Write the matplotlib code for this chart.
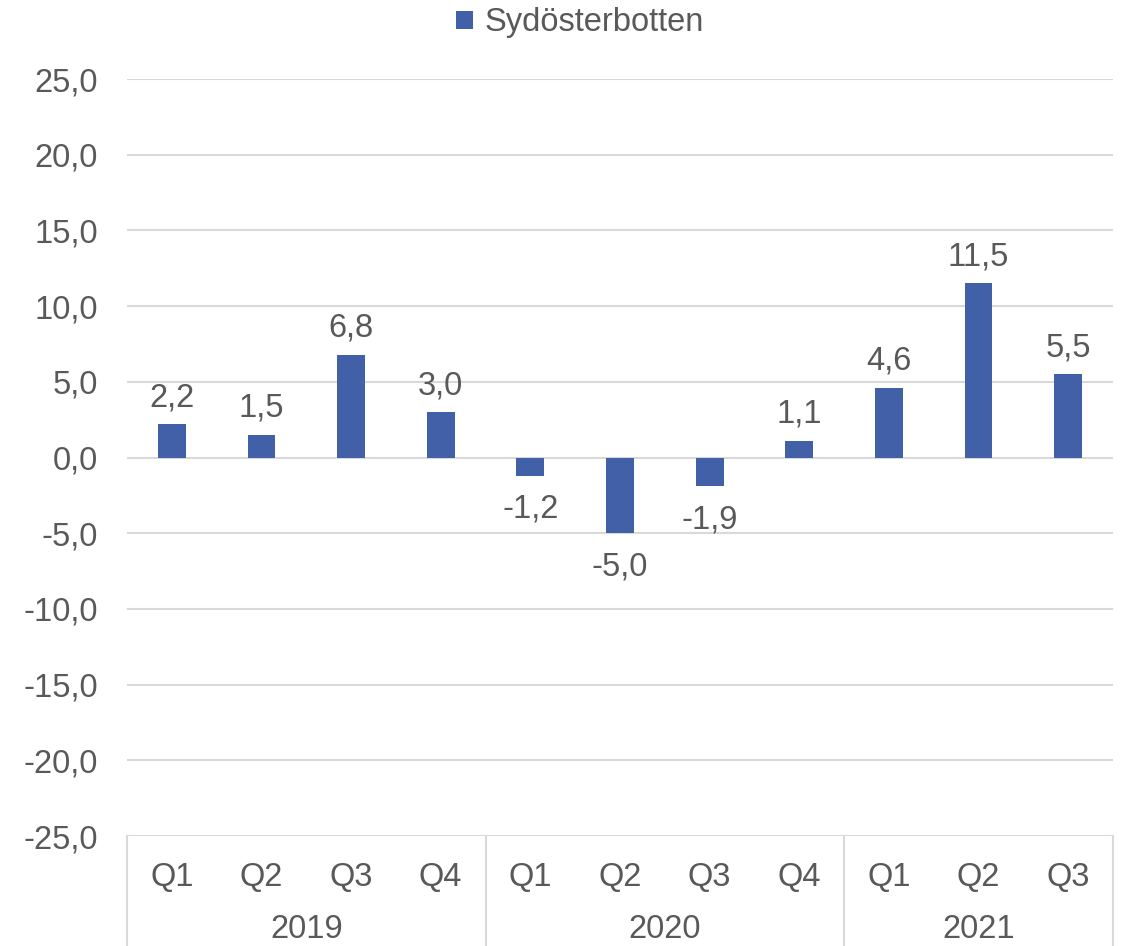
import matplotlib
matplotlib.use("Agg")
import matplotlib.pyplot as plt
from matplotlib.patches import Patch
import matplotlib.transforms as mtransforms

quarters = ["Q1", "Q2", "Q3", "Q4", "Q1", "Q2", "Q3", "Q4", "Q1", "Q2", "Q3"]
years = ["2019", "2020", "2021"]
year_counts = [4, 4, 3]
values = [2.2, 1.5, 6.8, 3.0, -1.2, -5.0, -1.9, 1.1, 4.6, 11.5, 5.5]
series_name = "Sydösterbotten"
yticks = [-25, -20, -15, -10, -5, 0, 5, 10, 15, 20, 25]

plt.rcParams['font.family'] = ['Liberation Sans', 'DejaVu Sans']
txt = '#595959'
bar_color = '#4160A8'
grid_color = '#D9D9D9'
fs = 23.5

W, H = 1122, 946
fig = plt.figure(figsize=(W / 100, H / 100), dpi=100)
left, right, top, bottom = 127, 1113, 79, 836
ax = fig.add_axes([left / W, (H - bottom) / H, (right - left) / W, (bottom - top) / H])

x = list(range(len(values)))
ax.bar(x, values, width=0.31, color=bar_color, zorder=3)
ax.set_xlim(-0.5, len(values) - 0.5)
ax.set_ylim(-25, 25)
ax.set_yticks(yticks)
ax.set_yticklabels([f"{v:.1f}".replace(".", ",") for v in yticks], color=txt, fontsize=fs)
ax.tick_params(axis='y', length=0, pad=21)
ax.set_xticks([])
for s in ax.spines.values():
    s.set_visible(False)
for v in yticks:
    ax.axhline(v, color=grid_color, lw=1.5, zorder=1)

for xi, v in zip(x, values):
    lab = f"{v:.1f}".replace(".", ",")
    if v >= 0:
        ax.annotate(lab, (xi, v), xytext=(0, 11), textcoords='offset pixels',
                    ha='center', va='bottom', fontsize=fs, color=txt)
    else:
        ax.annotate(lab, (xi, v), xytext=(0, -18), textcoords='offset pixels',
                    ha='center', va='top', fontsize=fs, color=txt)

# category axis
axh = bottom - top
trans = mtransforms.blended_transform_factory(ax.transData, ax.transAxes)
ylow = -(H - bottom) / axh
for xi, q in zip(x, quarters):
    ax.text(xi, -41 / axh, q, transform=trans, ha='center', va='center', fontsize=fs, color=txt)
start = 0
bounds = [-0.5]
for yr, n in zip(years, year_counts):
    center = start + (n - 1) / 2
    ax.text(center, -93 / axh, yr, transform=trans, ha='center', va='center', fontsize=fs, color=txt)
    start += n
    bounds.append(start - 0.5)
for b in bounds:
    ax.plot([b, b], [0, ylow], transform=trans, color=grid_color, lw=1.5, clip_on=False)

handle = Patch(facecolor=bar_color)
fig.legend([handle], [series_name], loc='center', bbox_to_anchor=(580 / W, 1 - 23 / H),
           frameon=False, fontsize=fs, labelcolor=txt, handlelength=0.5, handleheight=0.5,
           handletextpad=0.35)

fig.savefig("out.png", dpi=100)
